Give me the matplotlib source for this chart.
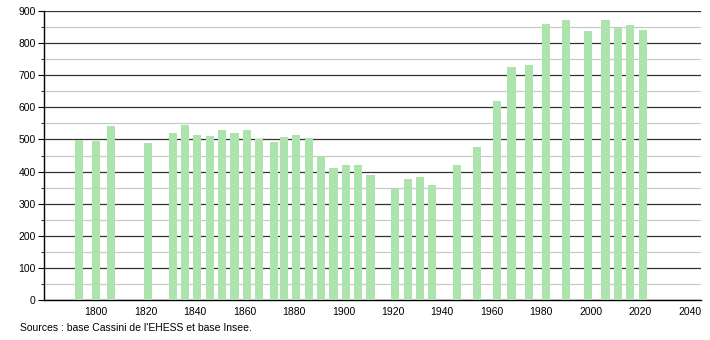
import matplotlib
matplotlib.use("Agg")
import matplotlib.pyplot as plt
from matplotlib.ticker import MultipleLocator

plt.rcParams['font.family'] = ['Liberation Sans', 'DejaVu Sans']

years = [1793, 1800, 1806, 1821, 1831, 1836, 1841, 1846, 1851, 1856, 1861, 1866,
         1872, 1876, 1881, 1886, 1891, 1896, 1901, 1906, 1911, 1921, 1926, 1931,
         1936, 1946, 1954, 1962, 1968, 1975, 1982, 1990, 1999, 2006, 2011, 2016, 2021]
population = [497, 496, 542, 490, 521, 544, 515, 512, 528, 521, 530, 501,
              493, 509, 514, 506, 447, 411, 419, 421, 389, 345, 376, 382,
              357, 420, 477, 620, 725, 731, 860, 872, 838, 872, 848, 857, 841]
xticks = [1800, 1820, 1840, 1860, 1880, 1900, 1920, 1940, 1960, 1980, 2000, 2020, 2040]
source = "Sources : base Cassini de l'EHESS et base Insee."

fig = plt.figure(figsize=(7.1, 3.4), dpi=100)
ax = fig.add_axes([0.062, 0.1176, 0.925, 0.85])

ax.bar(years, population, width=3.3, color='#ade3ad', zorder=3, linewidth=0)

ax.set_xlim(1779, 2044.5)
ax.set_ylim(0, 900)
ax.yaxis.set_major_locator(MultipleLocator(100))
ax.yaxis.set_minor_locator(MultipleLocator(50))
ax.set_xticks(xticks)
ax.grid(axis='y', which='major', color='#333333', linewidth=0.9, zorder=1)
ax.grid(axis='y', which='minor', color='#c8c8c8', linewidth=0.9, zorder=1)
ax.grid(axis='x', visible=False)

for s in ['top', 'right']:
    ax.spines[s].set_visible(False)
ax.spines['left'].set_color('black')
ax.spines['bottom'].set_color('black')
ax.spines['left'].set_linewidth(1)
ax.spines['bottom'].set_linewidth(1)

ax.tick_params(axis='x', length=0, labelsize=7.5, pad=5)
ax.tick_params(axis='y', which='major', length=4, labelsize=7.5, pad=2)
ax.tick_params(axis='y', which='minor', length=2)

fig.text(0.028, 0.035, source, fontsize=7.5, ha='left', va='center')

fig.savefig("out.png", dpi=100)
